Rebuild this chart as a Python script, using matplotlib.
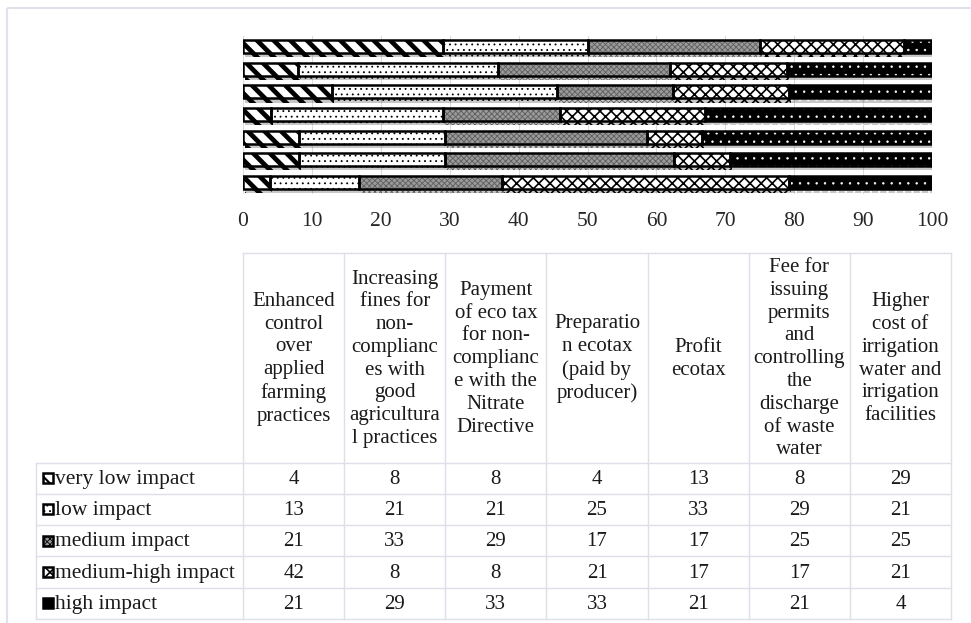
import matplotlib
matplotlib.use("Agg")
import matplotlib.pyplot as plt
import matplotlib.patches as patches
import matplotlib.patheffects as pe
import numpy as np

plt.rcParams['font.family'] = ['Liberation Serif', 'DejaVu Serif']

categories = ["Enhanced\ncontrol\nover\napplied\nfarming\npractices",
              "Increasing\nfines for\nnon-\ncomplianc\nes with\ngood\nagricultura\nl practices",
              "Payment\nof eco tax\nfor non-\ncomplianc\ne with the\nNitrate\nDirective",
              "Preparatio\nn ecotax\n(paid by\nproducer)",
              "Profit\necotax",
              "Fee for\nissuing\npermits\nand\ncontrolling\nthe\ndischarge\nof waste\nwater",
              "Higher\ncost of\nirrigation\nwater and\nirrigation\nfacilities"]

series_names = ["very low impact", "low impact", "medium impact",
                "medium-high impact", "high impact"]
very_low = [4, 8, 8, 4, 13, 8, 29]
low = [13, 21, 21, 25, 33, 29, 21]
medium = [21, 33, 29, 17, 17, 25, 25]
medium_high = [42, 8, 8, 21, 17, 17, 21]
high = [21, 29, 33, 33, 21, 21, 4]
x_ticks = [0, 10, 20, 30, 40, 50, 60, 70, 80, 90, 100]

series = [very_low, low, medium, medium_high, high]

# style per series: face, hatch, hatch colour, hatch width
styles = [
    dict(face='white', hatch='\\\\', hcol='black', hlw=3.4),
    dict(face='white', hatch='...', hcol='black', hlw=0.6),
    dict(face='#9a9a9a', hatch='xxxxxx', hcol='#5e5e5e', hlw=0.6),
    dict(face='white', hatch='xxx', hcol='black', hlw=1.2),
    dict(face='black', hatch='..', hcol='white', hlw=0.5),
]

W, H = 971, 623
fig = plt.figure(figsize=(W / 100, H / 100), dpi=100)

# ---- bar chart ----
ax = fig.add_axes([243 / W, 1 - 193.5 / H, (932 - 243) / W, 158 / H])
vals = np.array(series, dtype=float)
pct = vals / vals.sum(axis=0) * 100
y = np.arange(len(categories))
left = np.zeros(len(categories))
shadow = [pe.SimplePatchShadow(offset=(1.5, -3), shadow_rgbFace='black', alpha=0.22), pe.Normal()]
for k, st in enumerate(styles):
    with plt.rc_context({'hatch.linewidth': st['hlw']}):
        bars = ax.barh(y, pct[k], left=left, height=0.57, color=st['face'],
                       edgecolor=st['hcol'], hatch=st['hatch'], linewidth=0, zorder=3)
    for b in bars:
        if hasattr(b, 'set_hatch_linewidth'):
            b.set_hatch_linewidth(st['hlw'])
        b.set_path_effects(shadow)
    ax.barh(y, pct[k], left=left, height=0.57, fill=False, edgecolor='black',
            linewidth=1.8, zorder=4)
    left += pct[k]

ax.set_xlim(0, 100)
ax.set_ylim(-0.5, 6.5)
ax.set_xticks(x_ticks)
ax.set_yticks([])
ax.tick_params(axis='x', length=0, pad=13, labelsize=15.5, labelcolor='#262626')
ax.grid(axis='x', color='#d9dce3', linewidth=0.8, zorder=0)
for s in ax.spines.values():
    s.set_visible(False)

# ---- data table ----
tab = fig.add_axes([0, 0, 1, 1], zorder=5)
tab.set_xlim(0, W)
tab.set_ylim(H, 0)
tab.axis('off')
tab.patch.set_alpha(0)

grid_col = '#dde0e8'
col_x = np.linspace(243, 951, len(categories) + 1)
head_top, head_bot = 253, 462.5
row_y = np.linspace(head_bot, 619, len(series_names) + 1)
left_x = 36

# chart area frame
tab.add_patch(patches.Rectangle((7, 8), 980, 640, fill=False, edgecolor='#dfe2ea', linewidth=1.5))

for cx in col_x:
    tab.plot([cx, cx], [head_top, row_y[-1]], color=grid_col, lw=1)
tab.plot([col_x[0], col_x[-1]], [head_top, head_top], color=grid_col, lw=1)
tab.plot([left_x, left_x], [row_y[0], row_y[-1]], color=grid_col, lw=1)
for ry in row_y:
    tab.plot([left_x, col_x[-1]], [ry, ry], color=grid_col, lw=1)

for j, cat in enumerate(categories):
    cx = (col_x[j] + col_x[j + 1]) / 2
    tab.text(cx, (head_top + head_bot) / 2 + 1, cat, ha='center', va='center',
             fontsize=15, linespacing=1.27, color='#1a1a1a')

for i, name in enumerate(series_names):
    cy = (row_y[i] + row_y[i + 1]) / 2
    st = styles[i]
    with plt.rc_context({'hatch.linewidth': min(st['hlw'], 1.5)}):
        key = patches.Rectangle((43, cy - 5), 10, 10, facecolor=st['face'],
                                edgecolor='black', hatch=st['hatch'], linewidth=1.8)
    tab.add_patch(key)
    tab.text(55, cy + 1, name, ha='left', va='center', fontsize=15.5, color='#1a1a1a')
    for j in range(len(categories)):
        cx = (col_x[j] + col_x[j + 1]) / 2
        tab.text(cx, cy + 1, str(series[i][j]), ha='center', va='center',
                 fontsize=15, color='#1a1a1a')

fig.savefig("out.png", dpi=100)
